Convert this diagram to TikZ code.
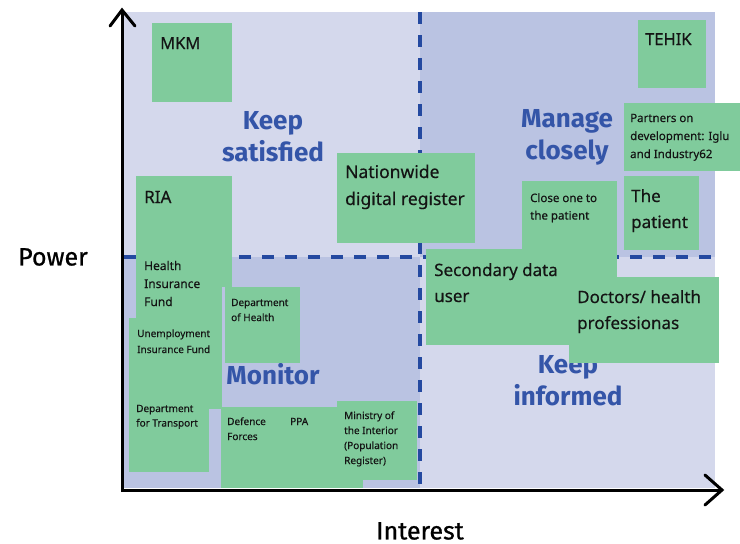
\documentclass[tikz,border=0pt]{standalone}
\usepackage{fontspec}
\setmainfont{Noto Sans}[FakeBold=0.35]
\newfontfamily\headfont{Fira Sans}
\newfontfamily\axisfont{Fira Sans}[FakeBold=0.8]
\usetikzlibrary{calc}

\definecolor{quadlight}{HTML}{D4D8EC}
\definecolor{quaddark}{HTML}{BAC3E2}
\definecolor{stickygreen}{HTML}{80CB9C}
\definecolor{dashblue}{HTML}{2449A0}
\definecolor{headblue}{HTML}{3455A8}
\definecolor{inkblack}{HTML}{141414}

\tikzset{
  notebox/.style={fill=stickygreen, draw=none, inner sep=0pt, outer sep=0pt},
  notetext/.style={inner sep=0pt, anchor=base west, text=inkblack},
  quadlabel/.style={font=\headfont\bfseries\fontsize{26}{32}\selectfont,
                    text=headblue, align=center, inner sep=0pt},
  divider/.style={draw=dashblue, line width=4pt, dash pattern=on 12pt off 11pt},
  axisline/.style={draw=black, line width=3pt},
  axislabel/.style={font=\axisfont\fontsize{25}{28}\selectfont, text=black, inner sep=0pt},
}

% stacked lines of a note, first baseline at the node's base
\newcommand\noteLines[3]{\fontsize{#1}{#2}\selectfont\begin{tabular}[t]{@{}l@{}}#3\end{tabular}}
% sticky note: name, x, y, width, height, text x, text baseline, text
\newcommand\sticky[8]{%
  \node[notebox, minimum width=#4pt, minimum height=#5pt, anchor=north west] (#1) at (#2,#3) {};
  \node[notetext] (#1-text) at (#6,#7) {#8};}

\begin{document}
\begin{tikzpicture}[x=1pt, y=-1pt]
  \useasboundingbox (0,0) rectangle (740,544);

  % quadrant backgrounds
  \fill[quadlight] (124,12) rectangle (715,488);
  \fill[quaddark] (420,12) rectangle (715,257);
  \fill[quaddark] (124,257) rectangle (420,488);

  % dashed dividers
  \coordinate (hleft) at (124,257);
  \coordinate (hright) at (715,257);
  \coordinate (vtop) at (420,12);
  \coordinate (vbottom) at (420,488);
  \draw[divider] (hleft) -- (hright);
  \draw[divider] (vtop) -- (vbottom);

  % quadrant headings
  \node[quadlabel] (satisfied) at (273,137) {Keep\\satisfied};
  \node[quadlabel] (manage) at (567,137) {Manage\\closely};
  \node[quadlabel] (monitor) at (273,374) {Monitor};
  \node[quadlabel] (informed) at (568,381) {Keep\\informed};

  % sticky notes
  \sticky{mkm}{152}{23}{80}{79}{160}{49}{\noteLines{16.5}{20}{MKM}}
  \sticky{tehik}{638}{20}{68}{68}{645}{45}{\noteLines{16.5}{20}{TEHIK}}
  \sticky{partners}{624}{103}{116}{68}{630}{122}{\noteLines{11.5}{18}{Partners on\\development: Iglu\\and Industry62}}
  \sticky{ria}{136}{176}{96}{111}{144}{203}{\noteLines{17}{20}{RIA}}
  \sticky{hif}{136}{250}{86}{68}{144}{270}{\noteLines{12}{18}{Health\\Insurance\\Fund}}
  \sticky{register}{337}{153}{138}{90}{345}{178}{\noteLines{17.5}{27}{Nationwide\\digital register}}
  \sticky{closeone}{522}{181}{95}{96}{530}{202}{\noteLines{11.5}{17.5}{Close one to\\the patient}}
  \sticky{patient}{624}{176}{75}{74}{631}{202}{\noteLines{17}{26}{The\\patient}}
  \sticky{secondary}{426}{249}{166}{96}{434}{276}{\noteLines{17}{26}{Secondary data\\user}}
  \sticky{doctors}{569}{277}{150}{86}{577}{303}{\noteLines{17}{26}{Doctors/ health\\professionas}}
  \sticky{doh}{225}{287}{75}{76}{231}{306}{\noteLines{10}{15}{Department\\of Health}}
  \sticky{uif}{129}{318}{93}{91}{137}{337}{\noteLines{10}{16}{Unemployment\\Insurance Fund}}
  \sticky{transport}{129}{395}{80}{77}{136}{412}{\noteLines{10}{14.5}{Department\\for Transport}}
  \sticky{defence}{221}{407}{61}{81}{227}{425}{\noteLines{10}{15}{Defence\\Forces}}
  \sticky{ppa}{282}{407}{81}{81}{290}{425}{\noteLines{10}{15}{PPA}}
  \sticky{interior}{337}{401}{80}{79}{344}{419}{\noteLines{10}{15}{Ministry of\\the Interior\\(Population\\Register)}}

  % axes
  \coordinate (origin) at (122,490);
  \coordinate (ytip) at (122,10);
  \coordinate (xtip) at (722,490);
  \draw[axisline, line join=miter] (ytip) -- (origin) -- (xtip);
  \draw[axisline, line cap=round, line join=miter] ($(ytip)+(-12,16)$) -- (ytip) -- ($(ytip)+(13,16)$);
  \draw[axisline, line cap=round, line join=miter] ($(xtip)+(-17,-15)$) -- (xtip) -- ($(xtip)+(-17,15)$);

  % axis titles
  \node[axislabel] (power) at (53,257) {Power};
  \node[axislabel] (interest) at (420,531) {Interest};
\end{tikzpicture}
\end{document}
